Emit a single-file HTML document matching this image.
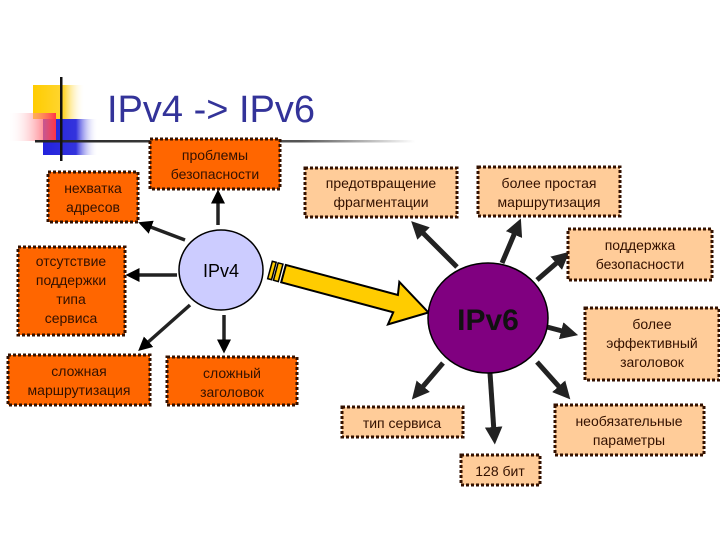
<!DOCTYPE html>
<html><head><meta charset="utf-8"><style>
body{margin:0;background:#fff;}
svg{display:block;}
text{font-family:"Liberation Sans","DejaVu Sans",sans-serif;}
</style></head><body>
<svg width="720" height="540" viewBox="0 0 720 540" xmlns="http://www.w3.org/2000/svg">
<defs>
<linearGradient id="bl" x1="0" x2="1"><stop offset="0" stop-color="#2222dd"/><stop offset="0.6" stop-color="#3333dd"/><stop offset="1" stop-color="#fff" stop-opacity="0"/></linearGradient>
<linearGradient id="rd" x1="1" x2="0"><stop offset="0" stop-color="#ff3344"/><stop offset="1" stop-color="#fff" stop-opacity="0"/></linearGradient>
<linearGradient id="yl" x1="0" x2="1"><stop offset="0" stop-color="#ffcc00"/><stop offset="0.6" stop-color="#ffd633"/><stop offset="1" stop-color="#fff" stop-opacity="0"/></linearGradient>
<linearGradient id="ln" x1="0" x2="1"><stop offset="0" stop-color="#222"/><stop offset="0.7" stop-color="#555"/><stop offset="1" stop-color="#fff"/></linearGradient>
<marker id="ah" markerWidth="4" markerHeight="4" refX="1" refY="2" orient="auto" markerUnits="strokeWidth"><path d="M0,0 L4,2 L0,4 z" fill="#000"/></marker>
<marker id="ah2" markerWidth="3.5" markerHeight="3.5" refX="1" refY="1.75" orient="auto" markerUnits="strokeWidth"><path d="M0,0 L3.5,1.75 L0,3.5 z" fill="#222"/></marker>
</defs>
<rect x="33" y="85" width="52" height="34" fill="url(#yl)"/>
<rect x="43" y="119" width="55" height="36" fill="url(#bl)"/>
<rect x="8" y="113" width="48" height="28" fill="url(#rd)"/>
<rect x="35" y="140" width="380" height="2.5" fill="url(#ln)"/>
<rect x="60" y="77" width="2.5" height="84" fill="#111"/>
<text x="107" y="122" font-size="38" fill="#333399">IPv4 -&gt; IPv6</text>

<g stroke="#222" stroke-width="3.5" fill="none">
<line x1="218" y1="225" x2="218" y2="200" marker-end="url(#ah)"/>
<line x1="185" y1="240" x2="148" y2="226" marker-end="url(#ah)"/>
<line x1="177" y1="275" x2="136" y2="275" marker-end="url(#ah)"/>
<line x1="190" y1="305" x2="146" y2="344" marker-end="url(#ah)"/>
<line x1="224" y1="315" x2="224" y2="343" marker-end="url(#ah)"/>
</g>
<g stroke="#222" stroke-width="5" fill="none">
<line x1="457" y1="267" x2="420" y2="230" marker-end="url(#ah2)"/>
<line x1="502" y1="263" x2="516" y2="230" marker-end="url(#ah2)"/>
<line x1="537" y1="280" x2="560" y2="260" marker-end="url(#ah2)"/>
<line x1="547" y1="327" x2="566" y2="332" marker-end="url(#ah2)"/>
<line x1="537" y1="362" x2="562" y2="390" marker-end="url(#ah2)"/>
<line x1="490" y1="373" x2="494" y2="432" marker-end="url(#ah2)"/>
<line x1="443" y1="363" x2="420" y2="390" marker-end="url(#ah2)"/>
</g>

<g transform="translate(270,270) rotate(15)">
<rect x="0" y="-9" width="4" height="18" fill="#ffcc00" stroke="#000" stroke-width="1.5"/>
<rect x="6" y="-9" width="5" height="18" fill="#ffcc00" stroke="#000" stroke-width="1.5"/>
<path d="M14,-9 L130,-9 L128,-22 L164,0 L128,22 L130,9 L14,9 z" fill="#ffcc00" stroke="#000" stroke-width="2"/>
</g>

<ellipse cx="221" cy="270" rx="42" ry="40" fill="#ccccff" stroke="#000" stroke-width="1.5"/>
<text x="221" y="277" font-size="18" text-anchor="middle" fill="#000">IPv4</text>
<ellipse cx="488" cy="318" rx="60" ry="55" fill="#800080" stroke="#000" stroke-width="1.5"/>
<text x="488" y="330" font-size="30" font-weight="bold" text-anchor="middle" fill="#111">IPv6</text>

<g stroke="#331100" stroke-width="3" stroke-dasharray="3,2">
<rect x="48" y="172" width="90" height="50" fill="#ff6600"/>
<rect x="150" y="139" width="130" height="50" fill="#ff6600"/>
<rect x="18" y="247" width="107" height="88" fill="#ff6600"/>
<rect x="8" y="355" width="142" height="50" fill="#ff6600"/>
<rect x="167" y="357" width="130" height="48" fill="#ff6600"/>
<rect x="305" y="168" width="152" height="49" fill="#ffcc99"/>
<rect x="478" y="167" width="142" height="49" fill="#ffcc99"/>
<rect x="568" y="229" width="144" height="51" fill="#ffcc99"/>
<rect x="585" y="308" width="134" height="72" fill="#ffcc99"/>
<rect x="342" y="407" width="121" height="30" fill="#ffcc99"/>
<rect x="555" y="405" width="149" height="50" fill="#ffcc99"/>
<rect x="461" y="455" width="79" height="30" fill="#ffcc99"/>
</g>
<g font-size="14" fill="#331100" text-anchor="middle">
<text x="93" y="193">нехватка</text><text x="93" y="212">адресов</text>
<text x="215" y="160">проблемы</text><text x="215" y="179">безопасности</text>
<text x="71" y="266">отсутствие</text><text x="71" y="285">поддержки</text><text x="71" y="304">типа</text><text x="71" y="323">сервиса</text>
<text x="79" y="376">сложная</text><text x="79" y="395">маршрутизация</text>
<text x="232" y="378">сложный</text><text x="232" y="397">заголовок</text>
<text x="381" y="188">предотвращение</text><text x="381" y="207">фрагментации</text>
<text x="549" y="188">более простая</text><text x="549" y="207">маршрутизация</text>
<text x="640" y="250">поддержка</text><text x="640" y="269">безопасности</text>
<text x="652" y="329">более</text><text x="652" y="348">эффективный</text><text x="652" y="367">заголовок</text>
<text x="402" y="428">тип сервиса</text>
<text x="629" y="426">необязательные</text><text x="629" y="445">параметры</text>
<text x="500" y="476">128 бит</text>
</g>
</svg>
</body></html>
